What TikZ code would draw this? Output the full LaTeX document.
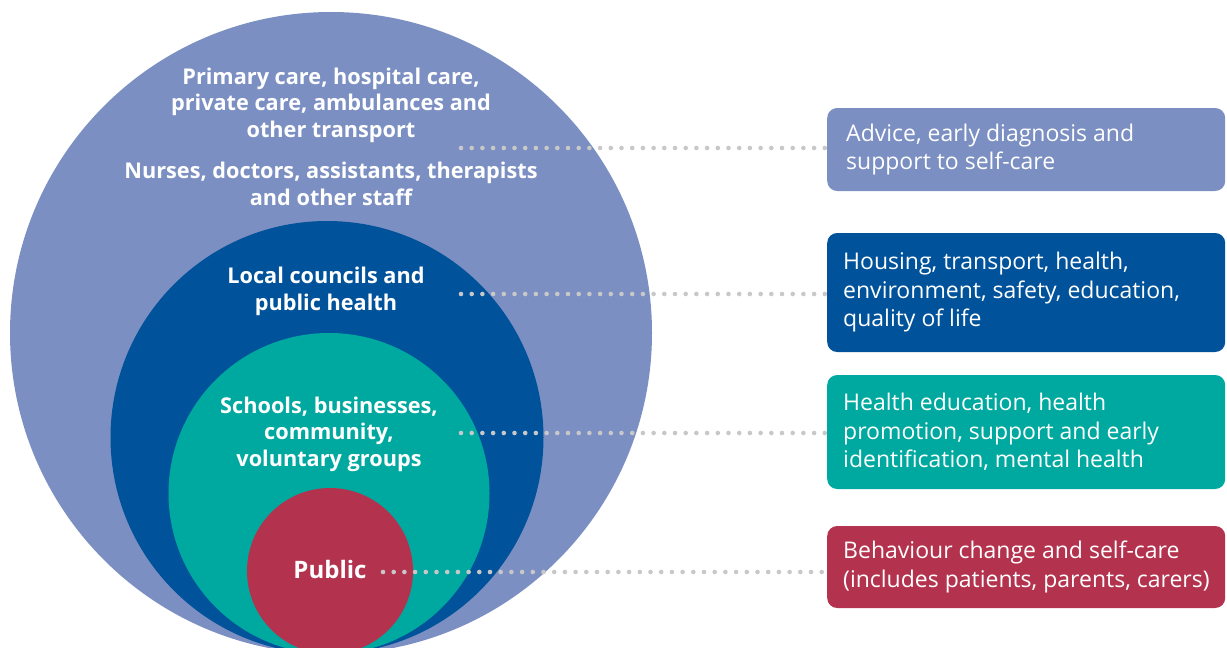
\documentclass[tikz,border=0pt]{standalone}
\usepackage{fontspec}
\setmainfont{Open Sans}
\definecolor{lav}{HTML}{7B8FC2}
\definecolor{dblue}{HTML}{00529B}
\definecolor{teal2}{HTML}{00A9A0}
\definecolor{red2}{HTML}{B3334F}
\definecolor{dotgray}{HTML}{C8C8C8}
\tikzset{
  ring/.style={circle, inner sep=0pt, draw=none},
  clabel/.style={text=white, align=center, inner sep=0pt, font=\bfseries\fontsize{21.7}{26.5}\selectfont},
  infobox/.style={rounded corners=10pt, anchor=west, minimum width=398pt, inner sep=0pt},
  infotext/.style={text=white, align=left, anchor=west, inner sep=0pt,
    font=\fontsize{23}{28.5}\selectfont},
  dotline/.style={draw=dotgray, line width=4.6pt, line cap=round, dash pattern=on 0pt off 10.7pt}
}
\begin{document}
\begin{tikzpicture}[x=1pt,y=-1pt]
\useasboundingbox (0,0) rectangle (1227,648);
\begin{scope}
\clip (0,0) rectangle (1227,648);
\node[ring, fill=lav, minimum size=642pt] (outer) at (331,333) {};
\node[ring, fill=dblue, minimum size=433pt] (council) at (327,437.5) {};
\node[ring, fill=teal2, minimum size=321pt] (school) at (329,493.5) {};
\node[ring, fill=red2, minimum size=166pt] (public) at (330,571) {};
\end{scope}
% labels
\node[clabel] (l1) at (331,105) {Primary care, hospital care,\\private care, ambulances and\\other transport};
\node[clabel] (l2) at (331,184) {Nurses, doctors, assistants, therapists\\and other staff};
\node[clabel] (l3) at (326,291.5) {Local councils and\\public health};
\node[clabel] (l4) at (329,434) {Schools, businesses,\\community,\\voluntary groups};
\node[clabel, font=\bfseries\fontsize{24}{28}\selectfont] (l5) at (330,569) {Public};
% boxes
\node[infobox, fill=lav, minimum height=83pt] (b1) at (827,149.5) {};
\node[infobox, fill=dblue, minimum height=119pt] (b2) at (827,292.5) {};
\node[infobox, fill=teal2, minimum height=114pt] (b3) at (827,432) {};
\node[infobox, fill=red2, minimum height=82pt] (b4) at (827,567) {};
\node[infotext] (t1) at (846,149.5) {Advice, early diagnosis and\\support to self-care};
\node[infotext] (t2) at (843,292.5) {Housing, transport, health,\\environment, safety, education,\\quality of life};
\node[infotext] (t3) at (843,432) {Health education, health\\promotion, support and early\\identification, mental health};
\node[infotext] (t4) at (843,567) {Behaviour change and self-care\\(includes patients, parents, carers)};
% connectors
\coordinate (s1) at (461,148);
\coordinate (s2) at (461,294);
\coordinate (s3) at (461,433);
\coordinate (s4) at (383,572);
\draw[dotline] (s1) -- (s1 -| b1.west);
\draw[dotline] (s2) -- (s2 -| b2.west);
\draw[dotline] (s3) -- (s3 -| b3.west);
\draw[dotline] (s4) -- (s4 -| b4.west);
\end{tikzpicture}
\end{document}
